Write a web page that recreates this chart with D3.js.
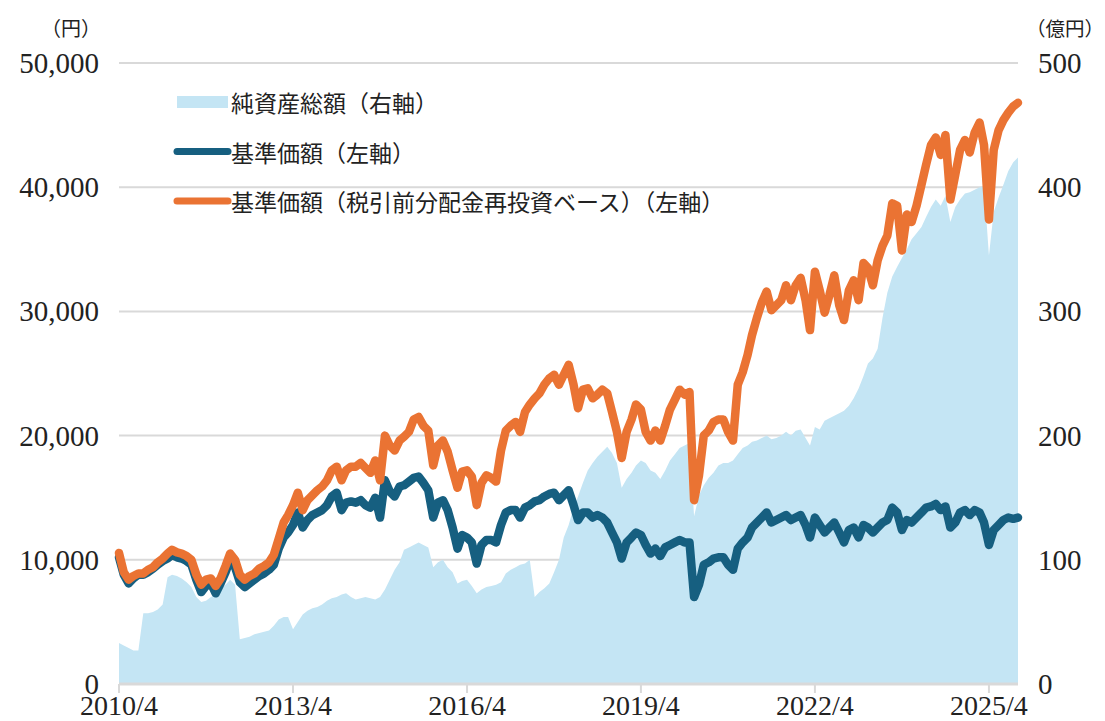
<!DOCTYPE html>
<html>
<head>
<meta charset="utf-8">
<script src="https://cdn.jsdelivr.net/npm/d3@7"></script>
<style>
  html, body { margin: 0; padding: 0; background: #fff; }
  svg text { font-family: "Liberation Serif", "DejaVu Serif", serif; fill: #222; }
  svg text.jp { font-family: "Noto Sans CJK JP", "Noto Sans", sans-serif; }
</style>
</head>
<body>
<div id="chart"></div>
<script>
// monthly points, 2010/4 .. 2025/10
const months = d3.timeMonth.range(new Date(2010, 3, 1), new Date(2025, 9, 2));

// 基準価額（税引前分配金再投資ベース） (円)
const reinvested = [
  10550, 9000, 8400, 8700, 8900, 8900, 9200, 9400, 9800, 10100,
  10500, 10800, 10600, 10500, 10300, 10000, 8800, 8000, 8400, 8500,
  7900, 8500, 9500, 10500, 10000, 8800, 8400, 8700, 8900, 9300,
  9500, 9800, 10400, 11700, 13000, 13600, 14400, 15400, 14000, 14800,
  15200, 15600, 15900, 16400, 17200, 17500, 16400, 17200, 17500, 17500,
  17800, 17400, 17000, 18000, 16400, 20000, 19200, 18800, 19600, 19900,
  20300, 21300, 21500, 20800, 20400, 17600, 19200, 19600, 18700, 17200,
  15800, 17100, 17200, 16700, 14400, 16200, 16800, 16600, 16300, 18800,
  20400, 20800, 21100, 20300, 21900, 22500, 23000, 23400, 24100, 24600,
  24900, 24100, 24900, 25700, 24100, 22200, 23700, 23800, 23000, 23300,
  23700, 23400, 21900, 20300, 18200, 20300, 21300, 22500, 22100, 20300,
  19600, 20400, 19600, 20800, 22100, 22900, 23700, 23300, 23500, 14800,
  16800, 20000, 20400, 21100, 21300, 21300, 20300, 19600, 24100, 25100,
  26500, 28100, 29500, 30700, 31600, 30100, 30500, 30900, 32100, 30900,
  32100, 32700, 30900, 28500, 33200, 31700, 29900, 31300, 32900, 30500,
  29300, 31700, 32500, 30900, 33900, 33500, 32100, 34100, 35300, 36100,
  38700, 38500, 34900, 37800, 37200, 38500, 40200, 41800, 43400, 44000,
  42600, 44200, 39000, 41000, 43000, 43800, 42800, 44400, 45200, 43400,
  37400, 43000, 44600, 45400, 46000, 46500, 46800
];

// 基準価額 (円)
const nav = [
  10200, 8800, 8100, 8500, 8800, 8800, 9000, 9300, 9600, 9900,
  10100, 10400, 10200, 10100, 9900, 9600, 8400, 7400, 7900, 8100,
  7300, 8100, 9000, 10000, 9400, 8200, 7800, 8100, 8400, 8700,
  8900, 9200, 9600, 10900, 11800, 12200, 12800, 13800, 12600, 13200,
  13600, 13800, 14000, 14400, 15100, 15400, 14000, 14600, 14700, 14600,
  14800, 14400, 14200, 15000, 13400, 16400, 15500, 15100, 15900, 16000,
  16300, 16600, 16700, 16200, 15600, 13400, 14600, 14800, 14000, 12600,
  10900, 12000, 11800, 11400, 9700, 11200, 11600, 11600, 11400, 12800,
  13800, 14000, 14000, 13400, 14200, 14400, 14700, 14800, 15100, 15300,
  15400, 14800, 15200, 15600, 14400, 13200, 13800, 13800, 13400, 13600,
  13400, 13000, 12200, 11400, 10100, 11400, 11800, 12200, 12000, 11200,
  10500, 10900, 10300, 11000, 11200, 11400, 11600, 11400, 11400, 7000,
  8000, 9600, 9800, 10100, 10200, 10200, 9600, 9200, 10900, 11400,
  11800, 12600, 13000, 13400, 13800, 13000, 13200, 13400, 13600, 13200,
  13400, 13600, 12800, 11800, 13400, 12800, 12200, 12600, 13000, 12200,
  11400, 12400, 12600, 11800, 12800, 12600, 12200, 12600, 13000, 13200,
  14200, 13800, 12400, 13200, 13000, 13400, 13800, 14200, 14300, 14500,
  14000, 14300, 12600, 13000, 13800, 14000, 13600, 14000, 13800, 13000,
  11200, 12400, 12800, 13200, 13400, 13300, 13400
];

// 純資産総額 (億円)
const netAssets = [
  33, 31, 29, 27, 27, 57, 57, 58, 60, 64,
  86, 88, 87, 85, 82, 78, 70, 66, 67, 70,
  72, 76, 80, 84, 80, 36, 37, 38, 40, 41,
  42, 43, 47, 52, 54, 54, 44, 50, 56, 59,
  61, 62, 64, 67, 69, 70, 72, 73, 70, 68,
  69, 70, 69, 68, 70, 76, 84, 92, 98, 108,
  110, 112, 114, 112, 110, 94, 98, 100, 94, 90,
  81, 83, 84, 79, 73, 76, 78, 79, 80, 82,
  89, 92, 94, 96, 97, 100, 70, 74, 77, 81,
  90, 100, 118, 128, 142, 151, 162, 172, 178, 183,
  187, 191, 186, 178, 158, 165, 170, 176, 180, 178,
  172, 170, 165, 172, 180, 185, 190, 192, 194, 135,
  152, 160, 166, 170, 176, 178, 178, 180, 185, 190,
  192, 195, 196, 198, 200, 197, 198, 200, 203, 200,
  204, 205, 198, 192, 207, 205, 212, 214, 216, 218,
  220, 224, 230, 238, 248, 258, 262, 270, 295, 315,
  328, 336, 343, 350, 358, 363, 368, 376, 384, 390,
  385, 393, 372, 384, 390, 395, 396, 398, 400, 401,
  345, 380, 392, 402, 413, 420, 424
];

const leftTicks = [0, 10000, 20000, 30000, 40000, 50000];
const rightTicks = [0, 100, 200, 300, 400, 500];
const xTicks = ["2010/4", "2013/4", "2016/4", "2019/4", "2022/4", "2025/4"];

const legendItems = [
  { label: "純資産総額（右軸）", color: "#c4e5f4", kind: "rect" },
  { label: "基準価額（左軸）", color: "#165f80", kind: "line" },
  { label: "基準価額（税引前分配金再投資ベース）（左軸）", color: "#ea7333", kind: "line" }
];

const W = 1105, H = 721;
const x0 = 119, x1 = 1018, yTop = 63, yBot = 684;

const svg = d3.select("#chart").append("svg")
  .attr("width", W).attr("height", H);

const x = d3.scaleTime()
  .domain([months[0], months[months.length - 1]])
  .range([x0, x1]);
const yL = d3.scaleLinear().domain([0, 50000]).range([yBot, yTop]);
const yR = d3.scaleLinear().domain([0, 500]).range([yBot, yTop]);
const parseTick = d3.timeParse("%Y/%m");

// gridlines
svg.append("g").selectAll("line")
  .data(leftTicks.slice(1))
  .enter().append("line")
  .attr("x1", x0).attr("x2", x1)
  .attr("y1", d => yL(d)).attr("y2", d => yL(d))
  .attr("stroke", "#d9d9d9").attr("stroke-width", 2);

// net assets area (right axis)
const area = d3.area()
  .x((d, i) => x(months[i]))
  .y0(yR(0))
  .y1(d => yR(d));
svg.append("path")
  .datum(netAssets)
  .attr("d", area)
  .attr("fill", "#c4e5f4");

// bottom axis line + ticks
svg.append("line")
  .attr("x1", x0).attr("x2", x1)
  .attr("y1", yBot).attr("y2", yBot)
  .attr("stroke", "#d9d9d9").attr("stroke-width", 3);
svg.append("g").selectAll("line")
  .data(xTicks)
  .enter().append("line")
  .attr("x1", d => x(parseTick(d))).attr("x2", d => x(parseTick(d)))
  .attr("y1", yBot).attr("y2", yBot + 9)
  .attr("stroke", "#d9d9d9").attr("stroke-width", 2);

// price lines
const line = d3.line()
  .x((d, i) => x(months[i]))
  .y(d => yL(d));
svg.append("path")
  .datum(nav)
  .attr("d", line)
  .attr("fill", "none")
  .attr("stroke", "#165f80")
  .attr("stroke-width", 8.5)
  .attr("stroke-linejoin", "round")
  .attr("stroke-linecap", "round");
svg.append("path")
  .datum(reinvested)
  .attr("d", line)
  .attr("fill", "none")
  .attr("stroke", "#ea7333")
  .attr("stroke-width", 8.5)
  .attr("stroke-linejoin", "round")
  .attr("stroke-linecap", "round");

// axis labels
const fmt = d3.format(",");
svg.append("g").selectAll("text")
  .data(leftTicks)
  .enter().append("text")
  .attr("x", 99).attr("y", d => yL(d) + 10)
  .attr("text-anchor", "end")
  .attr("font-size", 29)
  .text(d => fmt(d));
svg.append("g").selectAll("text")
  .data(rightTicks)
  .enter().append("text")
  .attr("x", 1038).attr("y", d => yR(d) + 10)
  .attr("font-size", 29)
  .text(d => d);
svg.append("g").selectAll("text")
  .data(xTicks)
  .enter().append("text")
  .attr("x", d => x(parseTick(d)))
  .attr("y", 715)
  .attr("text-anchor", "middle")
  .attr("font-size", 28)
  .text(d => d);

svg.append("text").attr("class", "jp")
  .attr("x", 101).attr("y", 36)
  .attr("text-anchor", "end")
  .attr("font-size", 20)
  .text("（円）");
svg.append("text").attr("class", "jp")
  .attr("x", 1026).attr("y", 36)
  .attr("font-size", 19.5)
  .text("（億円）");

// legend
const lg = svg.append("g").selectAll("g")
  .data(legendItems)
  .enter().append("g")
  .attr("transform", (d, i) => `translate(0, ${102 + i * 49.5})`);
lg.filter(d => d.kind === "rect").append("rect")
  .attr("x", 177).attr("y", -6).attr("width", 51).attr("height", 12)
  .attr("fill", d => d.color);
lg.filter(d => d.kind === "line").append("line")
  .attr("x1", 177).attr("x2", 228)
  .attr("stroke", d => d.color)
  .attr("stroke-width", 7)
  .attr("stroke-linecap", "round");
lg.append("text").attr("class", "jp")
  .attr("x", 231).attr("y", 0)
  .attr("dominant-baseline", "central")
  .attr("font-size", 23)
  .text(d => d.label);
</script>
</body>
</html>
